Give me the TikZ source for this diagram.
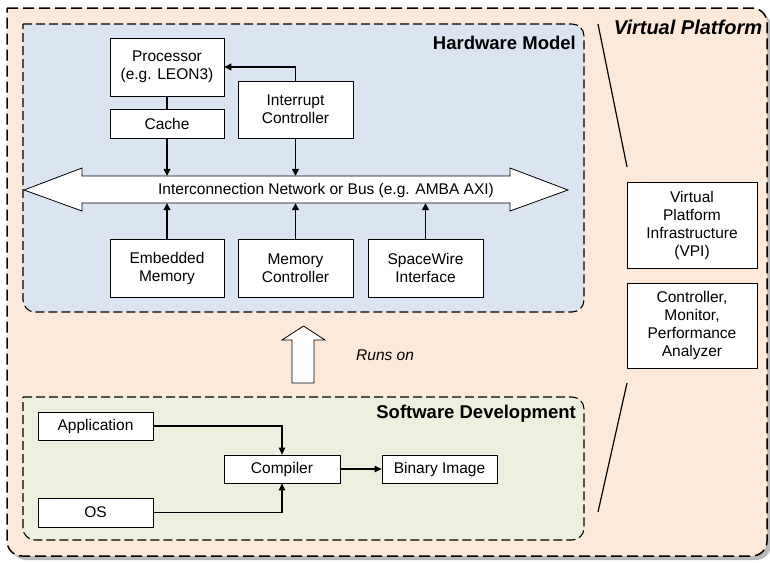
\documentclass[tikz,border=0pt]{standalone}
\usepackage{fontspec}
\setmainfont{Liberation Sans}
\usetikzlibrary{arrows.meta}
\definecolor{peach}{HTML}{FDE9D9}
\definecolor{hwblue}{HTML}{DBE5F1}
\definecolor{swgreen}{HTML}{EBF1DE}
\tikzset{
  blk/.style={draw, fill=white, line width=0.8pt, inner sep=0pt, align=center,
    font=\fontsize{15.5}{18}\selectfont},
  arr/.style={line width=1.4pt, -{Triangle[length=7pt,width=7pt]}},
  sarr/.style={line width=1.1pt, -{Triangle[length=7pt,width=6.5pt]}},
  plain/.style={line width=1.4pt},
  outerdash/.style={line width=1.5pt, dash pattern=on 11pt off 5pt},
  innerdash/.style={line width=1.1pt, dash pattern=on 9pt off 4pt},
  lbl/.style={inner sep=0pt, font=\fontsize{18.5}{22}\selectfont\bfseries},
}
\begin{document}
\begin{tikzpicture}[x=1pt,y=1pt]
\useasboundingbox (0,0) rectangle (770,-562);
% shadow
\fill[gray!55] (11,-12) -- (756,-12) arc[start angle=90,end angle=0,radius=15] -- (771,-545) arc[start angle=0,end angle=-90,radius=15] -- (26,-560) arc[start angle=270,end angle=180,radius=15] -- cycle;
% outer virtual platform box
\path[fill=peach] (7,-8) -- (752,-8) arc[start angle=90,end angle=0,radius=15] -- (767,-541) arc[start angle=0,end angle=-90,radius=15] -- (22,-556) arc[start angle=270,end angle=180,radius=15] -- cycle;
\draw[outerdash] (7,-8) -- (752,-8) arc[start angle=90,end angle=0,radius=15] -- (767,-541) arc[start angle=0,end angle=-90,radius=15] -- (22,-556) arc[start angle=270,end angle=180,radius=15] -- cycle;
% hardware model box
\draw[innerdash, fill=hwblue] (23,-24) -- (572,-24) arc[start angle=90,end angle=0,radius=12] -- (584,-300) arc[start angle=0,end angle=-90,radius=12] -- (35,-312) arc[start angle=270,end angle=180,radius=12] -- cycle;
% software development box
\draw[innerdash, fill=swgreen] (23,-397) -- (572,-397) arc[start angle=90,end angle=0,radius=12] -- (584,-528) arc[start angle=0,end angle=-90,radius=12] -- (35,-540) arc[start angle=270,end angle=180,radius=12] -- cycle;

% labels
\node[lbl, anchor=east] (hwl) at (576,-43) {Hardware Model};
\node[lbl, anchor=east] (swl) at (576,-414) {Software Development};
\node[inner sep=0pt, font=\fontsize{20}{24}\selectfont\bfseries\itshape] (vpl) at (688,-27) {Virtual Platform};
\node[inner sep=0pt, anchor=west, font=\fontsize{15.5}{18}\selectfont\itshape] (runs) at (356,-355) {Runs on};

% bus double arrow
\draw[line width=0.8pt, fill=white] (24,-190) -- (82,-168) -- (82,-176) -- (510,-176) -- (510,-168) -- (568,-190) -- (510,-211) -- (510,-203) -- (82,-203) -- (82,-211) -- cycle;
\node[inner sep=0pt, minimum width=428pt, minimum height=27pt, font=\fontsize{15.5}{18}\selectfont] (bus) at (296,-189.5) {};
\node[inner sep=0pt, font=\fontsize{15.5}{18}\selectfont] (bustext) at (326,-190) {Interconnection Network or Bus (e.g. AMBA AXI)};

% runs-on arrow
\draw[line width=0.8pt, fill=white] (292,-383) -- (292,-340) -- (282,-340) -- (303.5,-326) -- (325,-340) -- (314,-340) -- (314,-383) -- cycle;

% hardware blocks
\node[blk, minimum width=114pt, minimum height=58pt] (proc) at (167,-67) {Processor\\(e.g. LEON3)};
\node[blk, minimum width=114pt, minimum height=29pt] (cache) at (167,-123.5) {Cache};
\node[blk, minimum width=115pt, minimum height=57pt] (intc) at (295.5,-109.5) {Interrupt\\Controller};
\node[blk, minimum width=114pt, minimum height=58pt] (emb) at (167,-268) {Embedded\\Memory};
\node[blk, minimum width=115pt, minimum height=58pt] (memc) at (295.5,-268) {Memory\\Controller};
\node[blk, minimum width=115pt, minimum height=58pt] (spw) at (425.5,-268) {SpaceWire\\Interface};

% VP blocks
\node[blk, minimum width=130pt, minimum height=86pt] (vpi) at (692,-225) {Virtual\\Platform\\Infrastructure\\(VPI)};
\node[blk, minimum width=130pt, minimum height=85pt] (ctrl) at (692,-325.5) {Controller,\\Monitor,\\Performance\\Analyzer};

% software blocks
\node[blk, minimum width=115pt, minimum height=28pt] (app) at (95.5,-426) {Application};
\node[blk, minimum width=115pt, minimum height=29pt] (os) at (95.5,-512.5) {OS};
\node[blk, minimum width=116pt, minimum height=28pt] (comp) at (282,-469) {Compiler};
\node[blk, minimum width=115pt, minimum height=28pt] (bin) at (439.5,-469) {Binary Image};

% hardware connectors
\draw[plain] (proc.south) -- (cache.north);
\draw[arr] (cache.south) -- (cache.south |- bus.north);
\draw[arr] (intc.south) -- (intc.south |- bus.north);
\draw[arr] (intc.north) |- (proc.east);
\draw[arr] (emb.north) -- (emb.north |- bus.south);
\draw[arr] (memc.north) -- (memc.north |- bus.south);
\draw[arr] (spw.north) -- (spw.north |- bus.south);

% software connectors
\draw[sarr] (app.east) -| (comp.north);
\draw[sarr] (os.east) -| (comp.south);
\draw[sarr] (comp.east) -- (bin.west);

% slanted lines
\coordinate (d1a) at (598,-24);
\coordinate (d1b) at (627,-167);
\coordinate (d2a) at (627,-383);
\coordinate (d2b) at (598,-512);
\draw[line width=1.2pt] (d1a) -- (d1b);
\draw[line width=1.2pt] (d2a) -- (d2b);
\end{tikzpicture}
\end{document}
